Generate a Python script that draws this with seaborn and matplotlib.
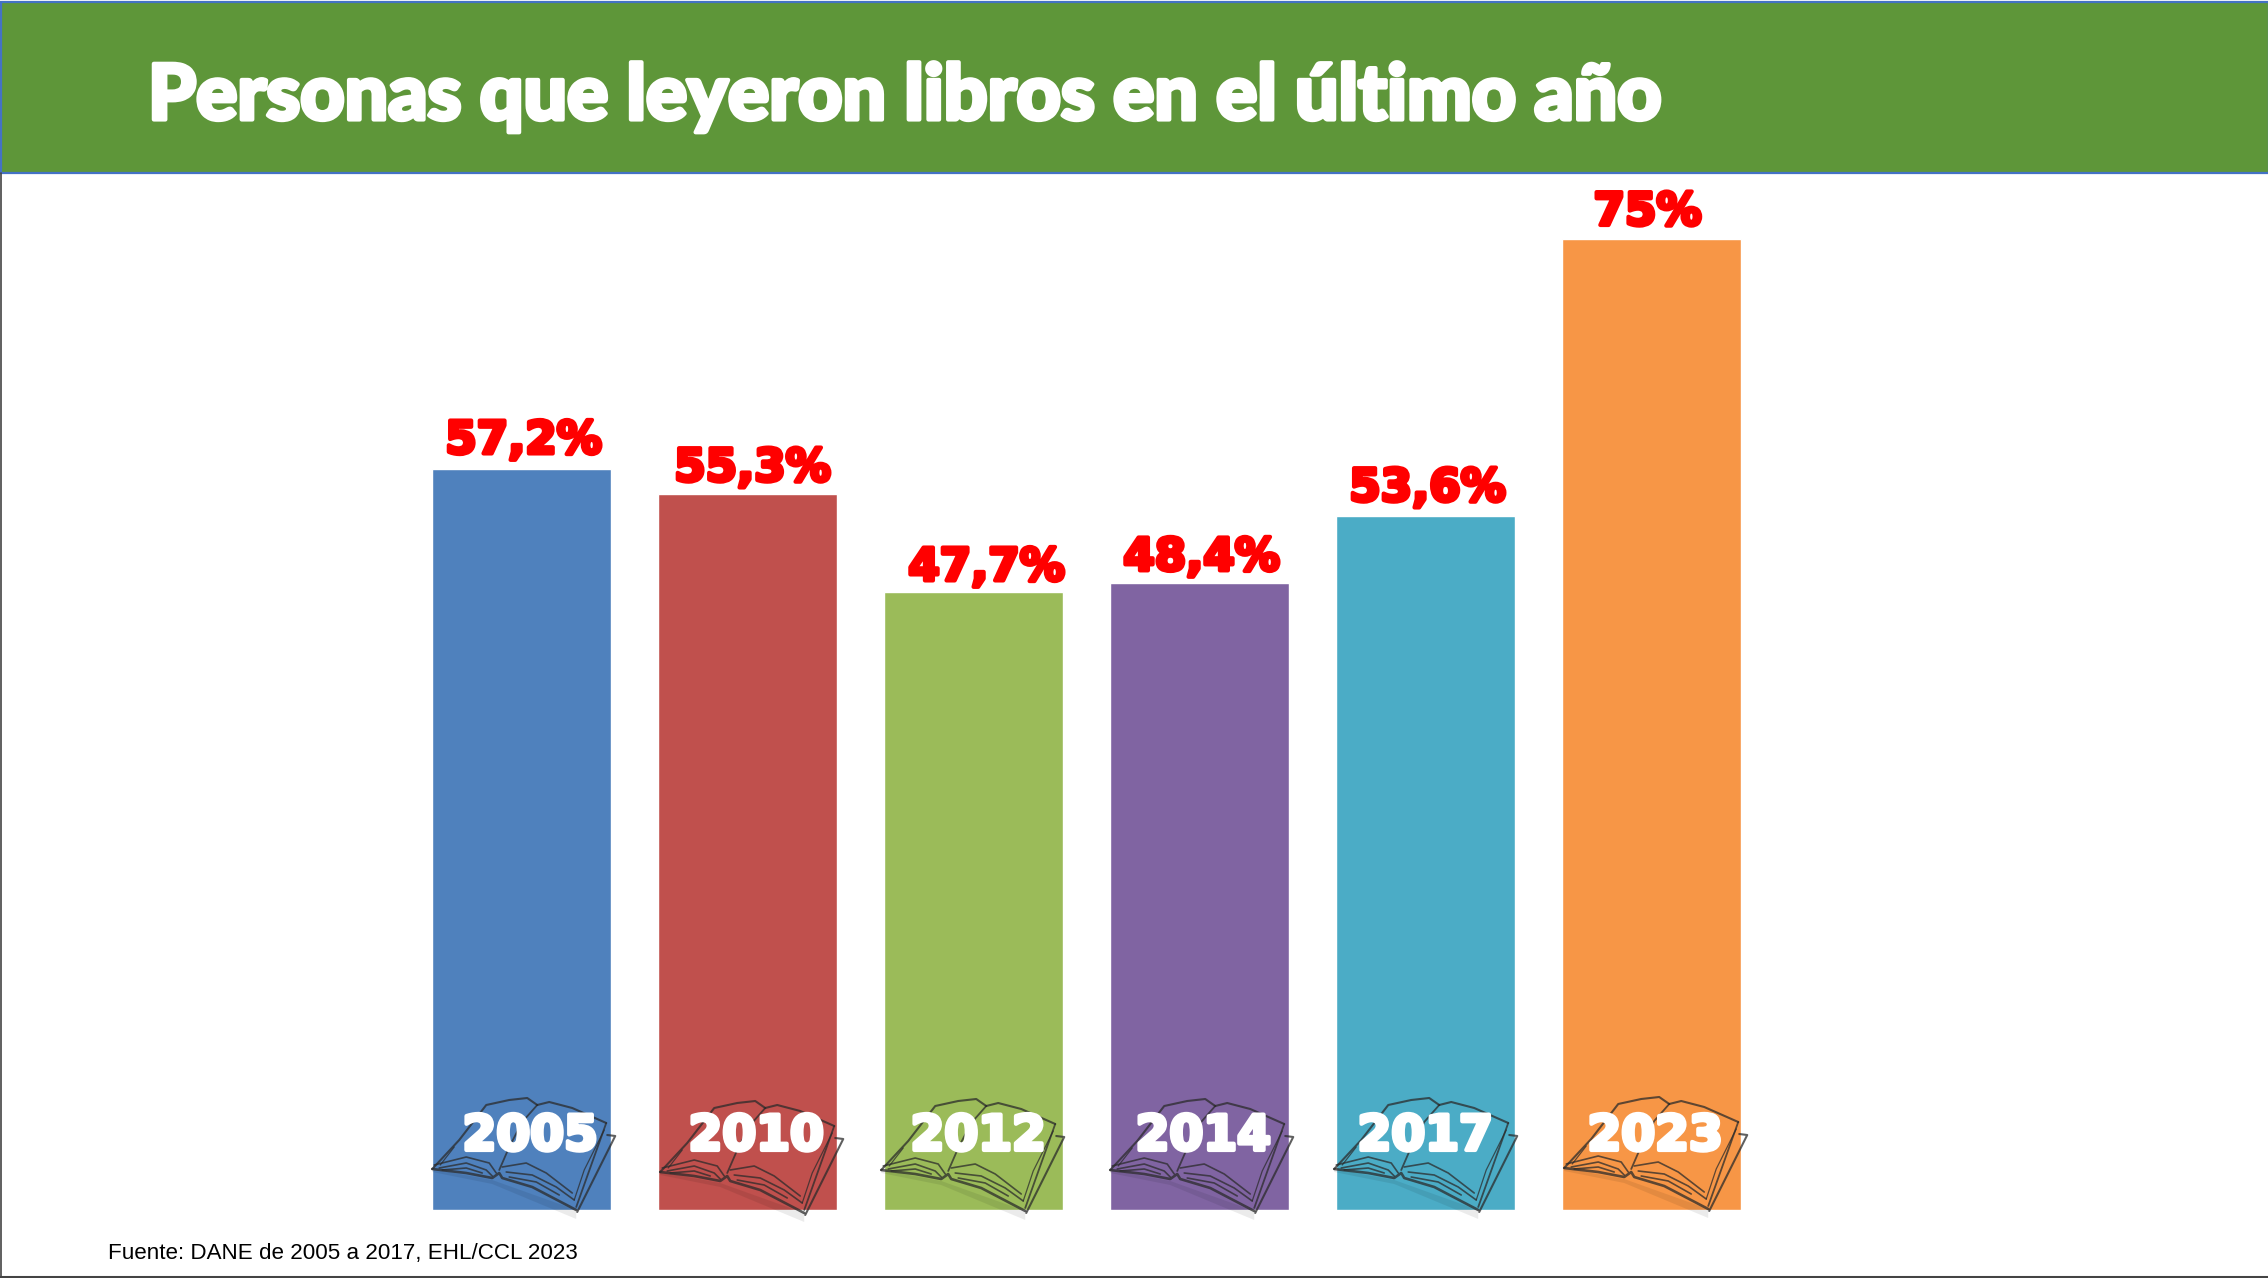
import pandas as pd
import matplotlib
matplotlib.use("Agg")
import matplotlib.pyplot as plt
import matplotlib.patheffects as pe
from matplotlib.patches import Rectangle, Polygon
import seaborn as sns

# Datos
years = ["2005", "2010", "2012", "2014", "2017", "2023"]
values = [57.2, 55.3, 47.7, 48.4, 53.6, 75]
labels = ["57,2%", "55,3%", "47,7%", "48,4%", "53,6%", "75%"]
colors = ["#4F81BD", "#C0504D", "#9BBB59", "#8064A2", "#4BACC6", "#F79646"]
title = "Personas que leyeron libros en el último año"
source = "Fuente: DANE de 2005 a 2017, EHL/CCL 2023"

# Ajustes de posición de los textos (px)
label_dx = [2, 5, 13, 2, 2, -4]
label_dy = [7, 4, 3, 4, 6, 5]
year_dx = [9, 9, 5, 4, 0, 4]
book_dx = [0, 2, -3, 0, -2, 2]
book_dy = [0, 3, 1, 1, 0, -1]

W, H = 2268, 1278
sns.set_theme(style="white")
plt.rcParams["font.family"] = ["Lato", "DejaVu Sans"]

df = pd.DataFrame({"anio": years, "valor": values})

fig = plt.figure(figsize=(W / 100, H / 100), dpi=100, facecolor="white")

# Eje de las barras: 1 categoría = 226 px, base en y=1210, 75% en y=240
ax = fig.add_axes([408.5 / W, (H - 1210) / H, 1356 / W, 971 / H], facecolor="none")
sns.barplot(data=df, x="anio", y="valor", hue="anio", palette=colors, order=years,
            hue_order=years, width=0.79, saturation=1, legend=False, ax=ax)
ax.set_xlim(-0.5, 5.5)
ax.set_ylim(0, 75)
ax.axis("off")

for i, (val, lab) in enumerate(zip(values, labels)):
    ax.annotate(lab, (i, val), xytext=(label_dx[i], label_dy[i]), textcoords="offset pixels",
                ha="center", va="bottom", fontsize=32.5, fontweight="bold", color="#FF0000",
                family="DejaVu Sans", annotation_clip=False,
                path_effects=[pe.withStroke(linewidth=3, foreground="#FF0000")])

# Capa en pixeles para banner, marcos y libros
deco = fig.add_axes([0, 0, 1, 1], facecolor="none")
deco.set_xlim(0, W)
deco.set_ylim(H, 0)
deco.axis("off")

deco.add_patch(Rectangle((1, 2), W, 171, facecolor="#5E9639", edgecolor="#4472C4", linewidth=1.6))
deco.plot([0.7, 0.7], [173, H], color="#444444", lw=1.2)
deco.plot([0, W], [H - 1.5, H - 1.5], color="#444444", lw=2.2)
deco.text(148, 91, title, ha="left", va="center_baseline", fontsize=55.3, fontweight="black",
          color="white", path_effects=[pe.withStroke(linewidth=3, foreground="white")])
deco.text(108, 1253, source, ha="left", va="center", fontsize=16.15,
          color="black", family=["Liberation Sans", "DejaVu Sans"])

# Dibujo del libro, relativo a la esquina inferior izquierda de cada barra
book_lines = [
    # tapas y contorno de las hojas
    ([0, 27, 54, 77, 95, 105], [-41, -70, -105, -110, -112, -105], 1.5),
    ([105, 117, 140, 174], [-105, -108, -102, -87], 1.5),
    ([174, 144], [-87, -3], 1.3),
    ([175, 183, 145], [-75, -74, 2], 1.5),
    ([105, 90, 77, 67], [-105, -88, -63, -40], 1.3),
    ([0, 34, 60, 67, 70, 100, 144], [-41, -37, -32, -37, -32, -23, 0], 1.9),
    # hojas
    ([2, 34, 57, 64], [-45, -53, -47, -37], 1.2),
    ([7, 34, 54, 60], [-42, -47, -40, -34], 1.2),
    ([10, 34, 50], [-40, -42, -37], 1.2),
    ([70, 94, 114, 140], [-43, -47, -37, -17], 1.2),
    ([74, 100, 124, 142], [-38, -35, -23, -10], 1.2),
    ([77, 104, 127], [-33, -28, -15], 1.2),
    ([142, 152, 172], [-10, -40, -80], 0.9),
    ([22, 8], [-63, -45], 0.9),
]
shadow = [(0, -41), (60, -30), (144, 0), (144, 9), (60, -26), (0, -38)]

bar_left = [p.get_x() for p in ax.patches[:len(years)]]
for i, year in enumerate(years):
    x0, y0 = ax.transData.transform((bar_left[i], 0))
    x0 += book_dx[i]
    y0 = H - y0 + book_dy[i]
    deco.add_patch(Polygon([(x0 + a, y0 + b) for a, b in shadow], closed=True,
                           facecolor="black", alpha=0.08, edgecolor="none"))
    for xs, ys, lw in book_lines:
        deco.plot([x0 + a for a in xs], [y0 + b for b in ys], color="#2B2B2B",
                  lw=lw, alpha=0.75, solid_capstyle="round", solid_joinstyle="round")
    cx = x0 - book_dx[i] + 89 + year_dx[i]
    deco.text(cx, 1131, year, ha="center", va="center_baseline", fontsize=35, fontweight="bold",
              family="DejaVu Sans", color="white",
              path_effects=[pe.withStroke(linewidth=3, foreground="white")])

fig.savefig("out.png", dpi=100, facecolor="white")
